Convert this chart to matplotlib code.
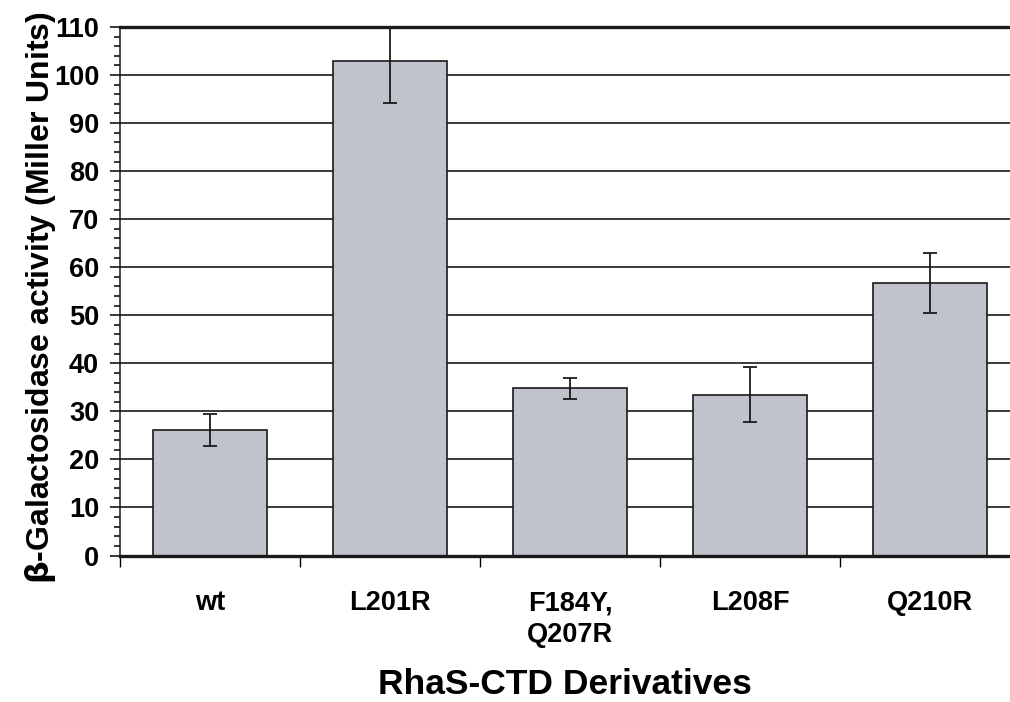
import matplotlib.pyplot as plt
import numpy as np

# Data
categories = ["wt", "L201R", "F184Y,\nQ207R", "L208F", "Q210R"]
activity = [26.1, 102.9, 34.8, 33.5, 56.7]
errors = [3.4, 8.8, 2.2, 5.8, 6.2]

plt.rcParams['font.family'] = ['Liberation Sans', 'DejaVu Sans']
plt.rcParams['font.weight'] = 'bold'

fig = plt.figure(figsize=(10.1, 7.02), dpi=100)
W, H = 1010, 702
# axes from x=120 to 1020 px, y=27 to 555.5 px
ax = fig.add_axes([120 / W, (H - 555.5) / H, 900 / W, 528.5 / H])

x = np.arange(len(categories))
ax.bar(x, activity, width=0.63, color='#c0c3cc', edgecolor='#1a1a1a',
       linewidth=1.2, zorder=2)
ax.errorbar(x, activity, yerr=errors, fmt='none', ecolor='#1a1a1a',
            elinewidth=1.3, capsize=5, capthick=1.3, zorder=3)

ax.set_xlim(-0.5, len(categories) - 0.5)
ax.set_ylim(0, 110)

# horizontal grid lines
ax.set_yticks(np.arange(0, 111, 10))
ax.set_yticks(np.arange(0, 111, 2), minor=True)
ax.yaxis.grid(True, which='major', color='#1a1a1a', linewidth=1.2, zorder=0)
ax.set_axisbelow(True)

# x ticks at category boundaries, labels at centres
ax.set_xticks(np.arange(-0.5, len(categories), 1.0))
ax.set_xticklabels([])
ax.set_xticks(x, minor=True)
ax.set_xticklabels(categories, minor=True, fontsize=19.5, fontweight='bold',
                   va='top', linespacing=1.3)
ax.tick_params(axis='x', which='major', direction='out', length=8, width=1)
ax.tick_params(axis='x', which='minor', length=0, pad=25)
ax.tick_params(axis='y', which='major', direction='out', length=7, width=1.1,
               labelsize=19.5, pad=8)
ax.tick_params(axis='y', which='minor', direction='out', length=4.5, width=1.1)
for lab in ax.get_yticklabels():
    lab.set_fontweight('bold')

ax.spines['right'].set_visible(False)
ax.spines['top'].set_linewidth(2.4)
ax.spines['bottom'].set_linewidth(2.4)
ax.spines['left'].set_linewidth(1.1)
for s in ax.spines.values():
    s.set_color('#1a1a1a')

ax.set_ylabel(r'$\mathrm{\beta}$-Galactosidase activity (Miller Units)',
              fontsize=23, fontweight='bold')
ax.yaxis.set_label_coords(-(120 - 58) / 900, 0.5 - 6.5 / 528.5)
fig.text(565 / W, 1 - 685 / H, 'RhaS-CTD Derivatives', fontsize=25.5,
         fontweight='bold', ha='center', va='center')

fig.savefig('out.png', dpi=100)
